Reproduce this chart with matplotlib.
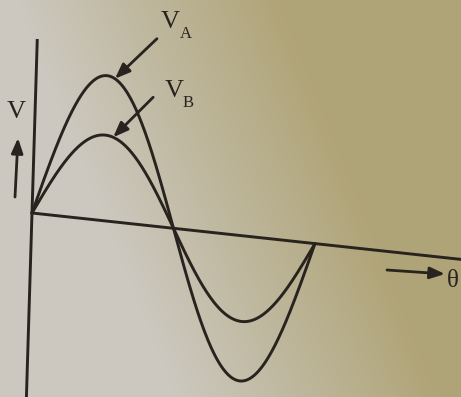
import numpy as np
import matplotlib
matplotlib.use("Agg")
import matplotlib.pyplot as plt
from matplotlib.transforms import Affine2D

# Waveform data: phase angle (degrees) and peak amplitudes of the two voltages
theta_deg = np.linspace(0, 360, 721)
VA_PEAK = 1.0
VB_PEAK = 0.59
va = VA_PEAK * np.sin(np.radians(theta_deg))
vb = VB_PEAK * np.sin(np.radians(theta_deg))

INK = "#28231e"
W, H = 461, 397

fig = plt.figure(figsize=(W / 100, H / 100), dpi=100)
ax = fig.add_axes([0, 0, 1, 1])
ax.set_xlim(0, W)
ax.set_ylim(H, 0)
ax.axis("off")

# Paper tone: light grey on the left fading into a warm tan towards the upper right
gx, gy = np.meshgrid(np.arange(W), np.arange(H))
t = np.clip((gx + 0.4 * (H - gy) - 175) / 260.0, 0, 1)[..., None]
c0 = np.array([0.80, 0.785, 0.75])
c1 = np.array([0.69, 0.645, 0.47])
bg = c0 * (1 - t) + c1 * t
ax.imshow(bg, extent=(0, W, H, 0), zorder=0, aspect="auto")

# Slightly skewed drawing plane: (theta, V) -> page position
a, b = 0.786, 0.085     # per degree
c, d = 4.4, -145.0      # per unit of V
e, f = 32.0, 213.0      # origin
plane = Affine2D(np.array([[a, c, e], [b, d, f], [0, 0, 1]])) + ax.transData

lw = 2.1
ax.plot(theta_deg, va, color=INK, lw=lw, transform=plane, zorder=3,
        solid_capstyle="round")
ax.plot(theta_deg, vb, color=INK, lw=lw, transform=plane, zorder=3,
        solid_capstyle="round")

# Axes of the diagram
ax.plot([0, 600], [0, 0], color=INK, lw=lw, transform=plane, zorder=2)
ax.plot([0, 0], [-1.35, 1.19], color=INK, lw=lw, transform=plane, zorder=2)

arrow = dict(arrowstyle="-|>,head_length=0.9,head_width=0.35", lw=2.0,
             color=INK, shrinkA=0, shrinkB=0)

# Pointers to the two curves
tip = 100.0
ax.annotate("", xy=(tip, VA_PEAK * np.sin(np.radians(tip))), xycoords=plane,
            xytext=(42, 40), textcoords="offset pixels", arrowprops=arrow)
ax.annotate("", xy=(tip, VB_PEAK * np.sin(np.radians(tip))), xycoords=plane,
            xytext=(40, 40), textcoords="offset pixels", arrowprops=arrow)

serif = "Liberation Serif"
ax.text(161, 28, "V", fontsize=19, family=serif, color=INK, va="baseline")
ax.text(180, 38, "A", fontsize=12, family=serif, color=INK, va="baseline")
ax.text(165, 97, "V", fontsize=19, family=serif, color=INK, va="baseline")
ax.text(183, 107, "B", fontsize=12, family=serif, color=INK, va="baseline")

# Axis captions with direction arrows
ax.text(7, 118, "V", fontsize=19, family=serif, color=INK, va="baseline")
ax.annotate("", xy=(18, 138), xytext=(15, 197), arrowprops=arrow)
ax.annotate("", xy=(445, 274), xytext=(387, 270), arrowprops=arrow)
ax.text(447, 287, "θ", fontsize=18, family=serif, color=INK, va="baseline")

fig.savefig("out.png", dpi=100)
